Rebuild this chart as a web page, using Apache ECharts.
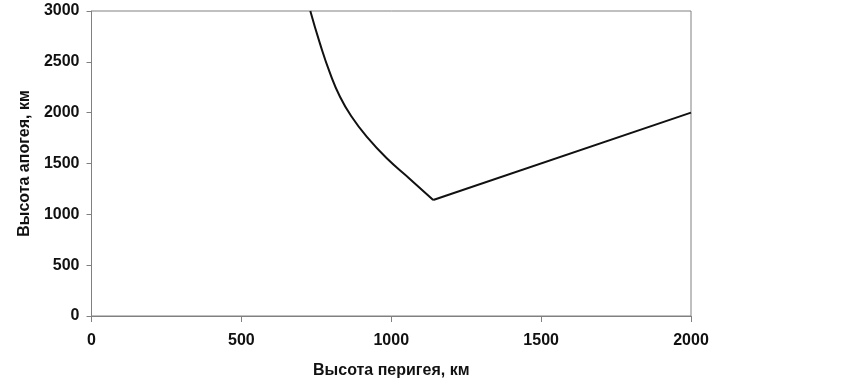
<!DOCTYPE html>
<html>
<head>
<meta charset="utf-8">
<script src="https://cdn.jsdelivr.net/npm/echarts@6/dist/echarts.min.js"></script>
<style>
  html, body { margin: 0; padding: 0; background: #fff; }
  #chart { width: 841px; height: 387px; }
</style>
</head>
<body>
<div id="chart"></div>
<script>
// левая ветвь: высота перигея / апогея, км
var curvePerigee = [730, 762, 796, 829, 868, 918, 985, 1063, 1140];
var curveApogee  = [3000, 2682, 2387, 2157, 1960, 1764, 1551, 1346, 1141];
// правая ветвь (прямая)
var linePerigee = [1140, 2000];
var lineApogee  = [1141, 2000];

var xTicks = [0, 500, 1000, 1500, 2000];
var yTicks = [0, 500, 1000, 1500, 2000, 2500, 3000];

var chart = echarts.init(document.getElementById('chart'));
var font = 'Liberation Sans, Arial, sans-serif';
var labelStyle = { fontFamily: font, fontWeight: 'bold', fontSize: 16, color: '#111' };
var nameStyle = { fontFamily: font, fontWeight: 'bold', fontSize: 16, color: '#111' };

function pairs(xs, ys) {
    return xs.map(function (x, i) { return [x, ys[i]]; });
}

var option = {
    animation: false,
    grid: {
        left: 91.5,
        right: 150,
        top: 11,
        bottom: 71,
        show: true,
        borderColor: '#808080',
        borderWidth: 1
    },
    xAxis: {
        type: 'value',
        min: xTicks[0],
        max: xTicks[xTicks.length - 1],
        interval: 500,
        name: 'Высота перигея, км',
        nameLocation: 'middle',
        nameGap: 47,
        nameTextStyle: nameStyle,
        axisLine: { lineStyle: { color: '#808080' } },
        axisTick: { length: 6, lineStyle: { color: '#808080' } },
        axisLabel: Object.assign({ margin: 17, formatter: function (v) { return String(v); } }, labelStyle),
        splitLine: { show: false }
    },
    yAxis: {
        type: 'value',
        min: yTicks[0],
        max: yTicks[yTicks.length - 1],
        interval: 500,
        name: 'Высота апогея, км',
        nameLocation: 'middle',
        nameGap: 58,
        nameTextStyle: nameStyle,
        axisLine: { show: true, lineStyle: { color: '#808080' } },
        axisTick: { show: true, length: 5, lineStyle: { color: '#808080' } },
        axisLabel: Object.assign({ margin: 12, formatter: function (v) { return String(v); } }, labelStyle),
        splitLine: { show: false }
    },
    series: [{
        type: 'line',
        data: pairs(curvePerigee, curveApogee),
        symbol: 'none',
        smooth: 0.5,
        lineStyle: { color: '#111', width: 2 }
    }, {
        type: 'line',
        data: pairs(linePerigee, lineApogee),
        symbol: 'none',
        lineStyle: { color: '#111', width: 2 }
    }]
};
chart.setOption(option);
</script>
</body>
</html>
